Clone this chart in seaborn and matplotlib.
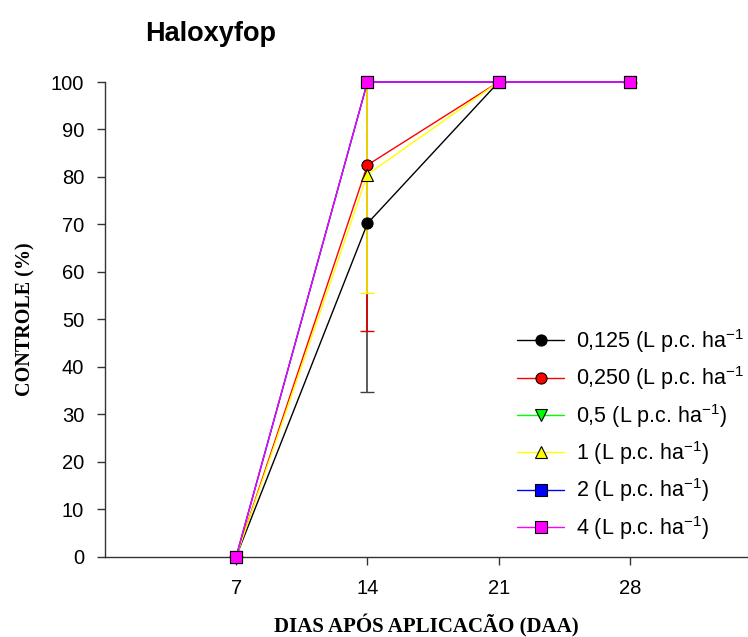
import seaborn as sns
import matplotlib.pyplot as plt

# days after application
days = [7, 14, 21, 28]

# control (%) per dose
dose_labels = ["0,125 (L p.c. ha$^{\\mathregular{-1}}$",
               "0,250 (L p.c. ha$^{\\mathregular{-1}}$",
               "0,5 (L p.c. ha$^{\\mathregular{-1}}$)",
               "1 (L p.c. ha$^{\\mathregular{-1}}$)",
               "2 (L p.c. ha$^{\\mathregular{-1}}$)",
               "4 (L p.c. ha$^{\\mathregular{-1}}$)"]
ctrl_0125 = [0, 70.2, 100, 100]
ctrl_0250 = [0, 82.5, 100, 100]
ctrl_05 = [0, 100, 100, 100]
ctrl_1 = [0, 80.5, 100, 100]
ctrl_2 = [0, 100, 100, 100]
ctrl_4 = [0, 100, 100, 100]

# error bars (only 14 DAA has spread)
err_0125 = [0, 35.5, 0, 0]
err_0250 = [0, 35.0, 0, 0]
err_1 = [0, 25.0, 0, 0]

series = [ctrl_0125, ctrl_0250, ctrl_05, ctrl_1, ctrl_2, ctrl_4]
errors = [err_0125, err_0250, None, err_1, None, None]
colors = ["#000000", "#ff0000", "#00ff00", "#ffff00", "#0000ff", "#ff00ff"]
err_colors = ["#404040", "#e00000", None, "#f5f500", None, None]
markers = ["o", "o", "v", "^", "s", "s"]

sns.set_style("white")
plt.rcParams["font.family"] = ["Liberation Sans", "DejaVu Sans"]
plt.rcParams["text.color"] = "black"
plt.rcParams["axes.labelcolor"] = "black"
plt.rcParams["xtick.color"] = "black"
plt.rcParams["ytick.color"] = "black"

fig = plt.figure(figsize=(7.48, 6.37), dpi=100)
ax = fig.add_axes([105 / 748, 1 - 556.5 / 637, 1 - 105 / 748, (556.5 - 82) / 637])

for i, vals in enumerate(series):
    if errors[i] is not None:
        ax.errorbar(days, vals, yerr=errors[i], fmt="none", ecolor=err_colors[i],
                    elinewidth=1.2, capsize=5, capthick=1, zorder=2 + i * 0.1)
    before = set(ax.lines)
    sns.lineplot(x=days, y=vals, ax=ax, color=colors[i], marker=markers[i],
                 markersize=8, markeredgecolor="black", markeredgewidth=0.8,
                 linewidth=1, label=dose_labels[i], zorder=3 + i * 0.1)
    for ln in ax.lines:
        if ln not in before:
            ln.set_clip_on(False)

ax.set_xlim(0, 34.3)
ax.set_ylim(0, 100)
ax.set_xticks(days)
ax.set_yticks(range(0, 101, 10))
ax.tick_params(axis="both", direction="out", length=6, width=1, color="#333333",
               labelsize=14.5, left=True, bottom=True)
ax.tick_params(axis="y", pad=9)
ax.tick_params(axis="x", pad=10)
sns.despine(ax=ax)
for s in ["left", "bottom"]:
    ax.spines[s].set_color("#333333")
    ax.spines[s].set_linewidth(1)

ax.set_xlabel("DIAS APÓS APLICACÃO (DAA)", family="Liberation Serif",
              fontweight="bold", fontsize=15, labelpad=12)
ax.set_ylabel("CONTROLE (%)", family="Liberation Serif",
              fontweight="bold", fontsize=14.5, labelpad=11)

fig.text(145 / 748, 1 - 34 / 637, "Haloxyfop", fontweight="bold",
         fontsize=19.5, va="center", ha="left")

ax.legend(loc="upper left", bbox_to_anchor=(517 / 748, 1 - 327 / 637),
          bbox_transform=fig.transFigure, frameon=False, fontsize=15.5,
          handlelength=2.2, handletextpad=0.55, labelspacing=0.44,
          borderpad=0, borderaxespad=0)

fig.savefig("out.png", dpi=100)
